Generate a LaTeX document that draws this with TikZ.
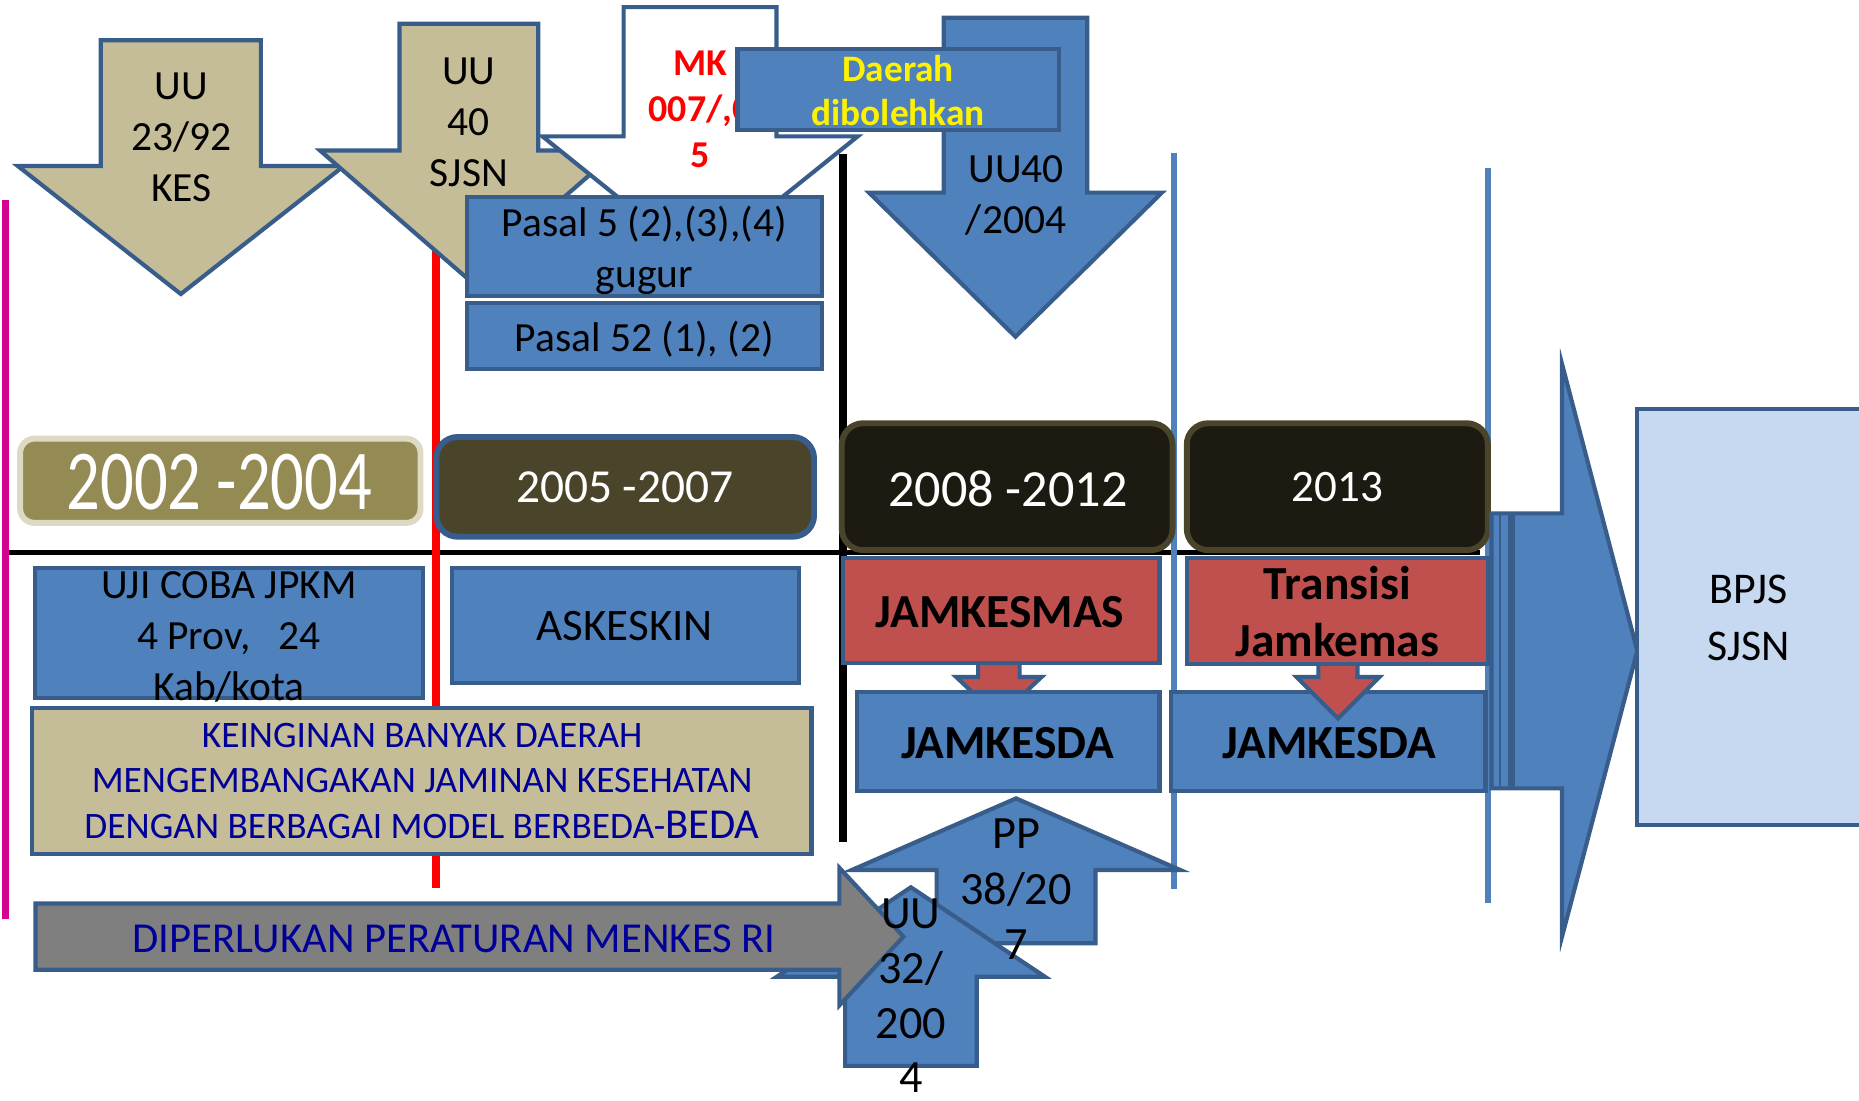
\documentclass[tikz,border=0pt]{standalone}
\usepackage{fontspec}
\setmainfont{Carlito}
\usepackage{graphicx}
\usepackage{xcolor}
\usepackage{tikz}
\definecolor{boxblue}{HTML}{4F81BD}
\definecolor{rimblue}{HTML}{385D8A}
\definecolor{sand}{HTML}{C4BD97}
\definecolor{olivebox}{HTML}{948A54}
\definecolor{paleolive}{HTML}{DDD9C3}
\definecolor{darkolive}{HTML}{4A452A}
\definecolor{nightbox}{HTML}{1D1B11}
\definecolor{redbox}{HTML}{C0504D}
\definecolor{greyarrow}{HTML}{7F7F7F}
\definecolor{paleblue}{HTML}{C6D9F1}
\definecolor{navytext}{HTML}{000099}
\definecolor{magentaline}{HTML}{D4008F}

\begin{document}
\begin{tikzpicture}[x=1pt, y=-1pt,
  rim/.style={draw=rimblue, line width=3.5},
  blok/.style={rim, fill=boxblue},
  lbl/.style={align=center, inner sep=0pt, font=\fontsize{35}{43}\selectfont},
  jam/.style={lbl, font=\fontsize{40}{48}\selectfont\bfseries},
  periode/.style={rounded corners=18, line width=5},
  tahun/.style={inner sep=0pt, text=white}]
\useasboundingbox (0,0) rectangle (1568,928);

% garis pembatas
\draw[black, line width=5] (8,466) -- (1248,466);
\foreach \x/\ya/\yb/\col/\w in {4.6/169/775/magentaline/6.5, 368/170/749/red/6.5,
  711/130/710/black/6, 990/129/750/boxblue/5, 1255/142/762/boxblue/5}
  \draw[\col, line width=\w] (\x,\ya) -- (\x,\yb);

% panah ke bawah
\foreach \cx/\sw/\ty/\hy/\hw/\tip/\col in {152.5/67.5/34/140/137.5/248/sand,
  395.5/58.5/20/127/125.5/236/sand, 590.5/64.5/6/115/133/222/white,
  856.5/60.5/15/162.5/123.5/284/boxblue}
  \draw[rim, fill=\col] (\cx-\sw,\ty) -- (\cx+\sw,\ty) -- (\cx+\sw,\hy) -- (\cx+\hw,\hy)
    -- (\cx,\tip) -- (\cx-\hw,\hy) -- (\cx-\sw,\hy) -- cycle;
\node[lbl] (uu23) at (153,116) {UU\\23/92\\KES};
\node[lbl] (uu40) at (395.5,103) {UU\\40\\SJSN};
\node[lbl, text=red, font=\fontsize{32}{39}\selectfont\bfseries] (mk) at (590.5,92) {MK\\007/,0\\5};
\node[lbl] (uu2004) at (857,165) {UU40\\/2004};

\draw[blok] (622,41) rectangle (893,110);
\node[lbl, text=yellow, font=\fontsize{31.5}{37}\selectfont\bfseries] (daerah) at (757.5,76) {Daerah\\dibolehkan};

\draw[blok] (394,166) rectangle (693,250);
\node[lbl] (pasal5) at (543.5,211) {Pasal 5 (2),(3),(4)\\gugur};
\draw[blok] (394,255.5) rectangle (693,311.5);
\node[lbl] (pasal52) at (543.5,286.5) {Pasal 52 (1), (2)};

% kotak periode
\draw[rounded corners=12, line width=5, draw=paleolive, fill=olivebox] (17,370) rectangle (354.7,441);
\node[tahun] (th0204) at (185,407) {\scalebox{0.78}[1]{\fontsize{72}{72}\selectfont 2002 -2004}};
\draw[periode, draw=rimblue, fill=darkolive] (368,368.6) rectangle (686.6,452.7);
\node[tahun, font=\fontsize{40}{40}\selectfont] (th0507) at (527,411) {2005 -2007};
\draw[periode, draw=darkolive, fill=nightbox] (710,357) rectangle (989,464);
\node[tahun, font=\fontsize{44}{44}\selectfont] (th0812) at (850,412) {2008 -2012};
\draw[periode, draw=darkolive, fill=nightbox] (1001,357) rectangle (1255,464);
\node[tahun, font=\fontsize{38}{38}\selectfont] (th13) at (1128,411) {2013};

% program daerah
\draw[blok] (29.4,478.8) rectangle (357,589);
\node[lbl] (ujicoba) at (193,537) {UJI COBA JPKM\\4 Prov,\ \ \ 24\\Kab/kota};
\draw[blok] (381,478.8) rectangle (674,575.8);
\node[lbl, font=\fontsize{38}{46}\selectfont] (askeskin) at (527,528) {ASKESKIN};
\draw[rim, fill=sand] (27,597.5) rectangle (684.5,720);
\node[lbl, text=navytext, font=\fontsize{31.5}{38.5}\selectfont] (keinginan) at (356,658.5)
  {KEINGINAN BANYAK DAERAH\\MENGEMBANGAKAN JAMINAN KESEHATAN\\DENGAN BERBAGAI MODEL BERBEDA-{\fontsize{36}{38.5}\selectfont BEDA}};

\draw[blok] (988,584) rectangle (1253,667);
\foreach \cx/\sw/\hw/\tip in {842.5/17.5/36/605, 1128.5/16.5/35/606}
  \draw[rim, fill=redbox] (\cx-\sw,550) -- (\cx+\sw,550) -- (\cx+\sw,571) -- (\cx+\hw,571)
    -- (\cx,\tip) -- (\cx-\hw,571) -- (\cx-\sw,571) -- cycle;
\draw[rim, fill=redbox] (711,471) rectangle (978,559);
\draw[rim, fill=redbox] (1001,471) rectangle (1255,560);
\draw[blok] (723,584) rectangle (978,667);
\node[jam] (jamkesmas) at (843.5,516) {JAMKESMAS};
\node[jam] (transisi) at (1128,516) {Transisi\\Jamkemas};
\node[jam] (jamkesda) at (850,627) {JAMKESDA};
\node[jam] (jamkesdb) at (1121.5,627) {JAMKESDA};

% menuju BPJS
\draw[blok] (1258,433) -- (1317.5,433) -- (1317.5,307) -- (1381,549) -- (1317.5,790)
  -- (1317.5,665) -- (1258,665) -- cycle;
\draw[rimblue, line width=1.5] (1265,433) -- (1265,665);
\draw[rimblue, line width=6] (1275,433) -- (1275,665);
\draw[rim, fill=paleblue] (1381,345) rectangle (1575,696);
\node[lbl, font=\fontsize{37}{48}\selectfont] (bpjs) at (1475,521.5) {BPJS\\SJSN};

% panah ke atas dan peraturan
\foreach \cx/\sw/\by/\hy/\hw/\tip in {857/67/795.6/733.8/138.5/673.4, 768.3/55.5/899/823.8/113/748.4}
  \draw[blok] (\cx-\sw,\by) -- (\cx-\sw,\hy) -- (\cx-\hw,\hy) -- (\cx,\tip) -- (\cx+\hw,\hy)
    -- (\cx+\sw,\hy) -- (\cx+\sw,\by) -- cycle;
\draw[rim, fill=greyarrow] (30,762) -- (708,762) -- (708,732) -- (762,790) -- (708,848)
  -- (708,818) -- (30,818) -- cycle;
\node[lbl, font=\fontsize{39}{47}\selectfont] (pp) at (857,750) {PP\\38/20\\7};
\node[lbl, font=\fontsize{39}{46}\selectfont] (uu32) at (768.3,840) {UU\\32/\\200\\4};
\node[lbl, text=navytext, font=\fontsize{36}{43}\selectfont] (menkes) at (383,791.5) {DIPERLUKAN PERATURAN MENKES RI};
\end{tikzpicture}
\end{document}
